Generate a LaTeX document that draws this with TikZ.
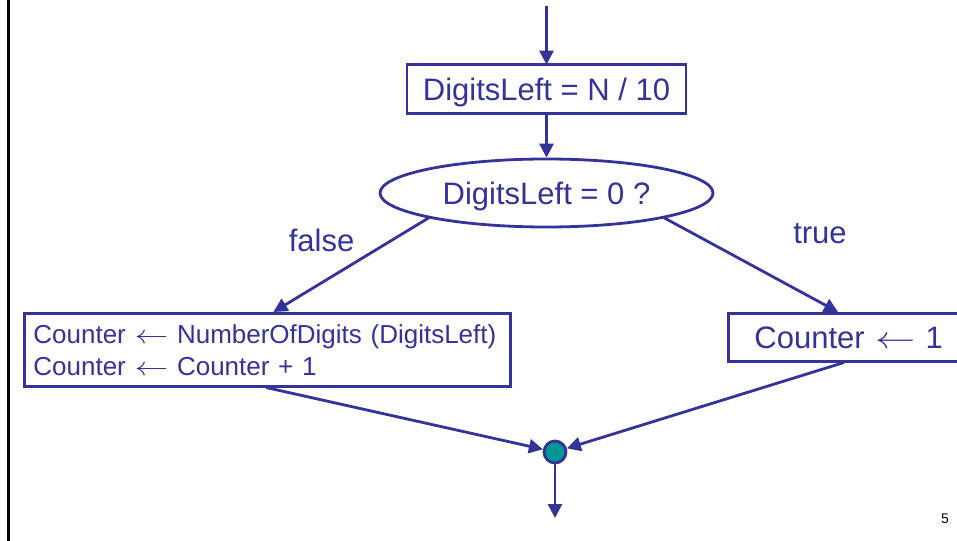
\RequirePackage{fix-cm}
\documentclass[tikz,border=0pt]{standalone}
\usepackage{fontspec}
\setmainfont{Liberation Sans}
\usetikzlibrary{arrows.meta,shapes.geometric}
\definecolor{flowblue}{RGB}{51,51,153}
\definecolor{jointeal}{RGB}{0,150,145}
% assignment arrow with a longer shaft
\newcommand{\assignarrow}{\ensuremath{\mathrel{\scalebox{1.3}[1]{$\leftarrow$}}}}
\begin{document}
\begin{tikzpicture}[x=1pt,y=-1pt,
  flow/.style={draw=flowblue,line width=2.8pt,
    -{Triangle[length=14pt,width=14pt]},shorten <=-1pt},
  procbox/.style={draw=flowblue,line width=2.8pt,text=flowblue,
    inner sep=0pt,text depth=0pt,font=\fontsize{31}{37}\selectfont},
  decision/.style={ellipse,draw=flowblue,line width=2.8pt,text=flowblue,
    inner sep=0pt,text depth=0pt,font=\fontsize{31}{37}\selectfont},
  branchlabel/.style={text=flowblue,inner sep=0pt,
    font=\fontsize{31}{37}\selectfont},
  joint/.style={circle,draw=flowblue,fill=jointeal,line width=2.8pt,
    minimum size=22pt,inner sep=0pt}]
\useasboundingbox (0,0) rectangle (957,540);
\clip (0,0) rectangle (957,540);
\fill[white] (0,0) rectangle (957,540);

% slide frame line on the left
\draw[black,line width=2.4pt] (8.5,-2) -- (8.5,542);

% flowchart nodes
\coordinate (entry) at (546.5,7);
\node[procbox,minimum width=279pt,minimum height=49pt] (init) at (546.5,89)
  {DigitsLeft = N / 10};
\node[decision,minimum width=333pt,minimum height=68pt] (test) at (546.5,193)
  {DigitsLeft = 0 ?};
\node[procbox,anchor=north west,minimum width=486pt,minimum height=73pt,
  text width=468pt,inner xsep=9pt,align=left,text depth=,
  font=\fontsize{26}{32}\selectfont] (many) at (23,312)
  {Counter \assignarrow{} NumberOfDigits (DigitsLeft)\\Counter \assignarrow{} Counter + 1};
\node[procbox,anchor=north west,minimum width=260pt,minimum height=48pt,
  text width=208pt,inner xsep=26pt,align=left] (one) at (727,312)
  {Counter \assignarrow{} 1};
\node[joint] (join) at (555,452) {};
\coordinate (exit) at (555,518);

% branch labels
\node[branchlabel] (lfalse) at (321.5,240) {false};
\node[branchlabel] (ltrue) at (820,234) {true};

% connectors
\draw[flow] (entry) -- ([yshift=-1.5pt]init.north);
\draw[flow] (init.south) -- (test.north);
\draw[flow] (test.192) -- ([xshift=6pt]many.north);
\draw[flow] (test.348) -- ([xshift=111pt]one.north west);
\draw[flow] (many.south) -- (join);
\draw[flow] ([xshift=116pt]one.south west) -- (join);
\draw[flow] (join.south) -- (exit);

% page number
\node[black,inner sep=0pt,font=\fontsize{14}{16}\selectfont] (pagenum) at (945,519) {5};
\end{tikzpicture}
\end{document}
